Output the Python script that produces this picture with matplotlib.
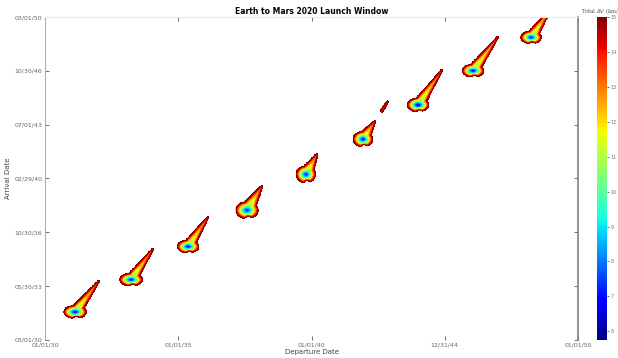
import matplotlib
matplotlib.use("Agg")
import matplotlib.pyplot as plt
import numpy as np

# launch opportunities: lobe (departure, arrival) in decimal years,
# tail tip of each window, and the minimum total dV in km/s
lobe_dep = [2031.13, 2033.23, 2035.37, 2037.58, 2039.79, 2041.93, 2042.61, 2044.00, 2046.06, 2048.24]
lobe_arr = [2031.90, 2033.90, 2035.95, 2038.20, 2040.42, 2042.60, 2044.28, 2044.72, 2046.84, 2048.90]
tip_dep = [2032.03, 2034.05, 2036.12, 2038.14, 2040.21, 2042.38, 2042.87, 2044.90, 2047.00, 2048.95]
tip_arr = [2033.82, 2035.80, 2037.78, 2039.70, 2041.68, 2043.72, 2044.96, 2046.88, 2048.93, 2050.60]
dv_min = [6.3, 6.5, 6.4, 6.8, 6.7, 6.5, 14.0, 6.0, 6.3, 6.5]
lobe_wx = [0.44, 0.44, 0.42, 0.44, 0.38, 0.38, 0.0, 0.42, 0.42, 0.40]
lobe_wy = [0.42, 0.42, 0.42, 0.55, 0.55, 0.50, 0.0, 0.45, 0.42, 0.42]
tail_w = [0.24, 0.24, 0.24, 0.32, 0.30, 0.28, 0.08, 0.24, 0.24, 0.24]
tail_dv = [9.5, 9.5, 9.5, 9.0, 9.0, 9.5, 14.0, 9.5, 9.5, 9.5]

x_ticks = [2030.0, 2035.0, 2040.0, 2045.0, 2050.0]
x_labels = ["01/01/30", "01/01/35", "01/01/40", "12/31/44", "01/01/50"]
y_ticks = list(np.linspace(2030.164, 2050.164, 7))
y_labels = ["03/01/30", "05/30/33", "10/30/36", "02/29/40", "07/01/43", "10/30/46", "03/01/50"]
cb_ticks = [6, 7, 8, 9, 10, 11, 12, 13, 14, 15]
vmin_all, vmax_all = 5.75, 15.0

dep = np.linspace(2030, 2050, 1000)
arr = np.linspace(2030.164, 2050.164, 800)
X, Y = np.meshgrid(dep, arr)
k = 0.606  # arrival-year scale so shapes are round on the page

field = np.full(X.shape, 30.0)
for i in range(len(lobe_dep)):
    x0, y0, x1, y1 = lobe_dep[i], lobe_arr[i], tip_dep[i], tip_arr[i]
    v0 = dv_min[i]
    if lobe_wx[i] > 0:
        ex = (X - x0) / lobe_wx[i]
        ey = (Y - y0) / lobe_wy[i]
        r = np.sqrt(ex**2 + ey**2)
        lobe = v0 + (15.2 - v0) * r**1.3
        # notch between the two bottom lobes
        lobe += 6.0 * np.exp(-((ex - 0.1) / 0.18)**2 - ((ey + 1.0) / 0.35)**2)
        field = np.minimum(field, lobe)
    # tapered tail running from the lobe to the tip
    ax_, ay_ = x1 - x0, (y1 - y0) * k
    L = np.hypot(ax_, ay_)
    px, py = X - x0, (Y - y0) * k
    t = (px * ax_ + py * ay_) / L**2
    n = np.abs(px * ay_ - py * ax_) / L
    tc = np.clip(t, 0, 1)
    w = tail_w[i] * (1 - tc) + 0.04 * tc
    base = tail_dv[i] + (13.6 - tail_dv[i]) * tc**0.8
    tail = base + (15.2 - base) * (n / w)**1.6
    tail += 80 * np.clip(t - 1, 0, None) + 80 * np.clip(-t, 0, None)
    field = np.minimum(field, tail)

field = np.ma.masked_greater(field, vmax_all)

fig = plt.figure(figsize=(6.18, 3.58), dpi=100)
ax = fig.add_axes([0.0728, 0.0503, 0.8625, 0.9022])
cax = fig.add_axes([0.966, 0.0503, 0.016, 0.9022])

levels = np.linspace(vmin_all, vmax_all, 38)
ax.contourf(X, Y, field, levels=levels, cmap="jet", vmin=vmin_all, vmax=vmax_all)
ax.contour(X, Y, field.filled(30), levels=[14.9], colors="#800000", linewidths=0.4)

ax.set_xlim(2030, 2050)
ax.set_ylim(2030.164, 2050.164)
ax.set_xticks(x_ticks)
ax.set_xticklabels(x_labels)
ax.set_yticks(y_ticks)
ax.set_yticklabels(y_labels)
ax.tick_params(direction="in", top=True, right=True, labelsize=4.5,
               labelcolor="#666666", color="#555555", length=3, width=0.6, pad=2)
ax.set_xlabel("Departure Date", fontsize=5, color="#444444", labelpad=1)
ax.set_ylabel("Arrival Date", fontsize=5, color="#444444", labelpad=2)
ax.set_title("Earth to Mars 2020 Launch Window", fontsize=5.5, fontweight="bold", pad=2)
ax.spines["bottom"].set_visible(False)
ax.spines["left"].set_color("#b0b0b0")
ax.spines["right"].set_color("#808080")
ax.spines["right"].set_linewidth(1.2)
ax.spines["top"].set_color("#e6e6e6")

sm = matplotlib.cm.ScalarMappable(norm=matplotlib.colors.Normalize(vmin_all, vmax_all), cmap="jet")
cb = fig.colorbar(sm, cax=cax, ticks=cb_ticks)
cb.outline.set_visible(False)
cb.ax.tick_params(labelsize=3.5, labelcolor="#777777", length=1.5, width=0.4, pad=1)
cax.set_title("Total $\\Delta V$ (km/s)", fontsize=3.8, family="serif", color="#555555", pad=3)

fig.savefig("out.png", dpi=100)
